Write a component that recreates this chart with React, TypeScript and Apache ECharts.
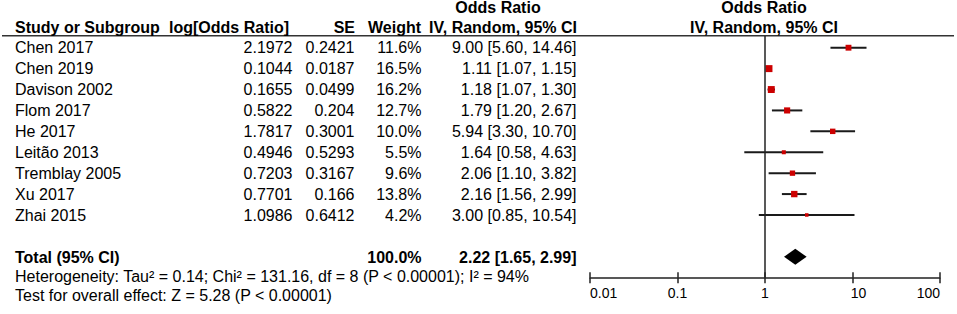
import React, { useEffect, useRef } from "react";
import * as echarts from "echarts";

const studies = ["Chen 2017", "Chen 2019", "Davison 2002", "Flom 2017", "He 2017", "Leitão 2013", "Tremblay 2005", "Xu 2017", "Zhai 2015"];
const logOddsRatio = ["2.1972", "0.1044", "0.1655", "0.5822", "1.7817", "0.4946", "0.7203", "0.7701", "1.0986"];
const standardErrors = ["0.2421", "0.0187", "0.0499", "0.204", "0.3001", "0.5293", "0.3167", "0.166", "0.6412"];
const weights = [11.6, 16.5, 16.2, 12.7, 10.0, 5.5, 9.6, 13.8, 4.2];
const oddsRatios = [9.0, 1.11, 1.18, 1.79, 5.94, 1.64, 2.06, 2.16, 3.0];
const ciLower = [5.6, 1.07, 1.07, 1.2, 3.3, 0.58, 1.1, 1.56, 0.85];
const ciUpper = [14.46, 1.15, 1.3, 2.67, 10.7, 4.63, 3.82, 2.99, 10.54];
const totalLabel = "Total (95% CI)";
const totalWeight = 100.0;
const totalOR = 2.22;
const totalLower = 1.65;
const totalUpper = 2.99;
const tickLabels = [0.01, 0.1, 1, 10, 100];
const heterogeneityText = "Heterogeneity: Tau² = 0.14; Chi² = 131.16, df = 8 (P < 0.00001); I² = 94%";
const overallEffectText = "Test for overall effect: Z = 5.28 (P < 0.00001)";

const FONT = "Liberation Sans, Arial, sans-serif";
const ROW0 = 47.7;
const ROWH = 20.93;

function txt(text: string, x: number, y: number, align: string, bold = false, size = 16) {
  return {
    type: "text",
    silent: true,
    style: {
      text,
      x,
      y,
      fill: "#000",
      font: `${bold ? "bold " : ""}${size}px ${FONT}`,
      align,
      verticalAlign: "middle",
      textAlign: align,
      textVerticalAlign: "middle",
    },
  };
}

const fmt = (v: number) => v.toFixed(2);

export default function App() {
  const ref = useRef<HTMLDivElement>(null);
  useEffect(() => {
    if (!ref.current) return;
    const chart = echarts.init(ref.current, undefined, { renderer: "svg" });

    const graphics: any[] = [];
    graphics.push({
      type: "line",
      silent: true,
      shape: { x1: 2, y1: 35.7, x2: 954, y2: 35.7 },
      style: { stroke: "#333", lineWidth: 1.5 },
    });
    // header
    graphics.push(txt("Odds Ratio", 498, 7.5, "center", true));
    graphics.push(txt("Odds Ratio", 764, 7.5, "center", true));
    graphics.push(txt("Study or Subgroup", 15, 27, "left", true));
    graphics.push(txt("log[Odds Ratio]", 289, 27, "right", true));
    graphics.push(txt("SE", 355, 27, "right", true));
    graphics.push(txt("Weight", 421, 27, "right", true));
    graphics.push(txt("IV, Random, 95% CI", 577, 27, "right", true));
    graphics.push(txt("IV, Random, 95% CI", 764, 27, "center", true));
    studies.forEach((s, i) => {
      const y = ROW0 + ROWH * i;
      graphics.push(txt(s, 15, y, "left"));
      graphics.push(txt(logOddsRatio[i], 292.5, y, "right"));
      graphics.push(txt(standardErrors[i], 354.5, y, "right"));
      graphics.push(txt(weights[i].toFixed(1) + "%", 421.5, y, "right"));
      graphics.push(txt(`${fmt(oddsRatios[i])} [${fmt(ciLower[i])}, ${fmt(ciUpper[i])}]`, 576.5, y, "right"));
    });
    const ty = ROW0 + ROWH * 10;
    graphics.push(txt(totalLabel, 15, ty, "left", true));
    graphics.push(txt(totalWeight.toFixed(1) + "%", 421.5, ty, "right", true));
    graphics.push(txt(`${fmt(totalOR)} [${fmt(totalLower)}, ${fmt(totalUpper)}]`, 576.5, ty, "right", true));
    graphics.push(txt(heterogeneityText, 15, 276.5, "left"));
    graphics.push(txt(overallEffectText, 15, 295.5, "left"));

    const labelFor = (v: number) => {
      const t = tickLabels.find((t) => Math.abs(Math.log10(t) - Math.log10(v)) < 1e-6);
      if (t === undefined) return "";
      if (t === 10) return "{s|" + String(t) + "}";
      return String(t);
    };

    const baseX = {
      type: "log",
      logBase: 10,
      min: tickLabels[0],
      max: tickLabels[tickLabels.length - 1],
      position: "bottom",
      splitLine: { show: false },
      minorTick: { show: false },
    };

    const option: any = {
      animation: false,
      grid: { left: 590, right: 17, top: 36, bottom: 36.3, containLabel: false },
      xAxis: [
        {
          ...baseX,
          axisLine: { show: true, onZero: false, lineStyle: { color: "#222", width: 1.5 } },
          axisTick: { show: true, inside: false, length: 5.5, lineStyle: { color: "#222", width: 1.5 } },
          axisLabel: {
            show: true,
            color: "#000",
            fontSize: 14,
            fontFamily: FONT,
            margin: 8,
            formatter: labelFor,
            alignMinLabel: "left",
            alignMaxLabel: "right",
            rich: { s: { padding: [0, 0, 0, 12], fontSize: 14, fontFamily: FONT, color: "#000" } },
          },
        },
        {
          ...baseX,
          axisLine: { show: false, onZero: false },
          axisTick: { show: true, inside: true, length: 5.5, lineStyle: { color: "#222", width: 1.5 } },
          axisLabel: { show: false },
        },
      ],
      yAxis: { type: "value", min: -0.56, max: 11, inverse: true, show: false },
      series: [
        {
          type: "custom",
          xAxisIndex: 0,
          data: studies.map((s, i) => [oddsRatios[i], ciLower[i], ciUpper[i], i, weights[i]]),
          encode: { x: [0, 1, 2], y: 3 },
          renderItem: (params: any, api: any) => {
            const yv = api.value(3);
            const p = api.coord([api.value(0), yv]);
            const l = api.coord([api.value(1), yv]);
            const h = api.coord([api.value(2), yv]);
            const s = 1.72 * Math.sqrt(api.value(4));
            return {
              type: "group",
              children: [
                { type: "line", shape: { x1: l[0], y1: l[1], x2: h[0], y2: h[1] }, style: { stroke: "#1a1a1a", lineWidth: 2 } },
                { type: "rect", shape: { x: p[0] - s / 2, y: p[1] - s / 2, width: s, height: s }, style: { fill: "#cc0000" } },
              ],
            };
          },
          markLine: {
            silent: true,
            symbol: "none",
            label: { show: false },
            lineStyle: { color: "#222", width: 1.5, type: "solid" },
            data: [{ xAxis: 1 }],
          },
          z: 3,
        },
        {
          type: "custom",
          xAxisIndex: 0,
          data: [[totalOR, totalLower, totalUpper, 10]],
          encode: { x: [0, 1, 2], y: 3 },
          renderItem: (params: any, api: any) => {
            const yv = api.value(3);
            const p = api.coord([api.value(0), yv]);
            const l = api.coord([api.value(1), yv]);
            const h = api.coord([api.value(2), yv]);
            const hh = 8;
            return {
              type: "polygon",
              shape: { points: [[l[0], p[1]], [p[0], p[1] - hh], [h[0], p[1]], [p[0], p[1] + hh]] },
              style: { fill: "#000" },
            };
          },
          z: 3,
        },
      ],
      graphic: graphics,
    };
    chart.setOption(option);
    return () => chart.dispose();
  }, []);
  return <div ref={ref} style={{ position: "fixed", left: 0, top: 0, width: 957, height: 314, background: "#fff" }} />;
}
